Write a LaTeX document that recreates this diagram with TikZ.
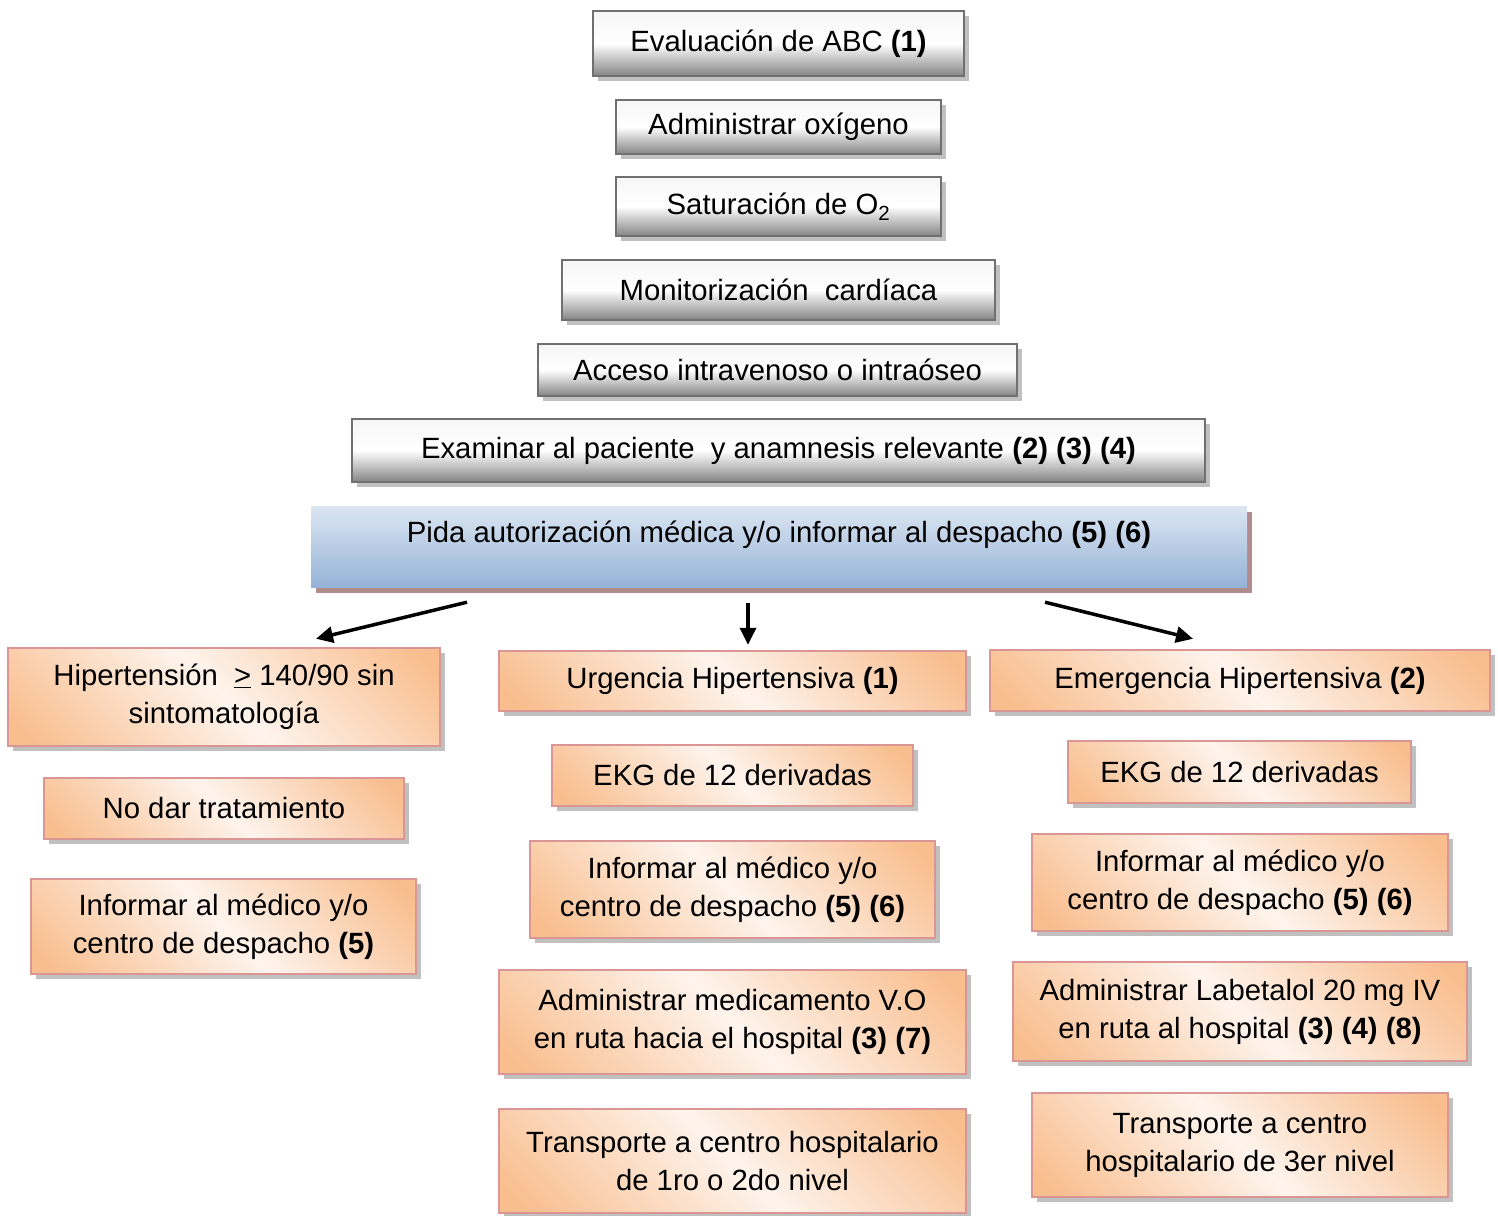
\documentclass[tikz,border=0pt]{standalone}
\usepackage{fontspec}
\setmainfont{Liberation Sans}
\usetikzlibrary{shadows,arrows.meta}

\definecolor{peach}{RGB}{249,190,142}
\definecolor{peachlt}{RGB}{254,244,237}
\definecolor{peachline}{RGB}{217,150,148}
\definecolor{grayline}{RGB}{112,112,112}
\definecolor{graydark}{RGB}{132,132,132}
\definecolor{graytop}{RGB}{246,246,246}
\definecolor{shadowgray}{RGB}{192,192,192}
\definecolor{bluetop}{RGB}{220,230,242}
\definecolor{bluebot}{RGB}{149,179,215}
\definecolor{blueshadow}{RGB}{176,140,140}

\pgfdeclarehorizontalshading{peachshade}{100bp}{color(0bp)=(peach); color(18bp)=(peach); color(50bp)=(peachlt); color(82bp)=(peach); color(100bp)=(peach)}

\tikzset{
  box/.style={rectangle, inner sep=0pt, align=center, text=black,
    font=\fontsize{29.3}{38}\selectfont},
  graybox/.style={box, top color=graytop, bottom color=graydark, middle color=white,
    draw=grayline, line width=2.5pt,
    drop shadow={shadow xshift=5pt, shadow yshift=-5pt, fill=shadowgray, opacity=1}},
  peachbox/.style={box, shade, shading=peachshade, shading angle=45,
    draw=peachline, line width=2.5pt,
    drop shadow={shadow xshift=5pt, shadow yshift=-5pt, fill=shadowgray, opacity=1}},
  bluebox/.style={box, top color=bluetop, bottom color=bluebot,
    drop shadow={shadow xshift=5pt, shadow yshift=-6pt, fill=blueshadow, opacity=1}},
  arr/.style={-{Triangle[length=17pt,width=16pt]}, line width=3.5pt, black},
}

\begin{document}
\begin{tikzpicture}[x=1pt,y=-1pt]
\useasboundingbox (0,0) rectangle (1498,1215);

% initial sequence of steps
\node[graybox, minimum width=371pt, minimum height=65pt] (abc) at (778.5,43.5)
  {Evaluación de ABC \textbf{(1)}};
\node[graybox, minimum width=325pt, minimum height=54pt] (oxi) at (778.5,127)
  {Administrar oxígeno};
\node[graybox, minimum width=325pt, minimum height=59pt] (sat) at (778.5,206.5)
  {Saturación de O\textsubscript{2}};
\node[graybox, minimum width=433pt, minimum height=60pt] (mon) at (778.5,290)
  {Monitorización\ \ cardíaca};
\node[graybox, minimum width=479pt, minimum height=52pt] (acc) at (777.5,370)
  {Acceso intravenoso o intraóseo};
\node[graybox, minimum width=853pt, minimum height=63pt] (exa) at (778.5,450.5)
  {Examinar al paciente\ \ y anamnesis relevante \textbf{(2) (3) (4)}};
\node[bluebox, minimum width=936pt, minimum height=81pt] (pida) at (779,546.5)
  {\raisebox{12pt}[\height][\depth]{Pida autorización médica y/o informar al despacho \textbf{(5) (6)}}};

% left branch
\node[peachbox, minimum width=432pt, minimum height=98pt] (hip) at (224,697)
  {Hipertensión\ \ \underline{>} 140/90 sin\\sintomatología};
\node[peachbox, minimum width=360pt, minimum height=61pt] (nodar) at (224,808.5)
  {No dar tratamiento};
\node[peachbox, minimum width=385pt, minimum height=95pt] (infL) at (223.5,926.5)
  {Informar al médico y/o\\centro de despacho \textbf{(5)}};

% middle branch
\node[peachbox, minimum width=467pt, minimum height=60pt] (urg) at (732.5,681)
  {Urgencia Hipertensiva \textbf{(1)}};
\node[peachbox, minimum width=361pt, minimum height=61pt] (ekgM) at (732.5,775.5)
  {EKG de 12 derivadas};
\node[peachbox, minimum width=405pt, minimum height=97pt] (infM) at (732.5,889.5)
  {Informar al médico y/o\\centro de despacho \textbf{(5) (6)}};
\node[peachbox, minimum width=467pt, minimum height=104pt] (admM) at (732.5,1022)
  {Administrar medicamento V.O\\en ruta hacia el hospital \textbf{(3) (7)}};
\node[peachbox, minimum width=467pt, minimum height=104pt] (traM) at (732.5,1161)
  {Transporte a centro hospitalario\\de 1ro o 2do nivel};

% right branch
\node[peachbox, minimum width=500pt, minimum height=61pt] (emer) at (1240,680.5)
  {Emergencia Hipertensiva \textbf{(2)}};
\node[peachbox, minimum width=343pt, minimum height=62pt] (ekgR) at (1239.5,772)
  {EKG de 12 derivadas};
\node[peachbox, minimum width=416pt, minimum height=97pt] (infR) at (1240,882.5)
  {Informar al médico y/o\\centro de despacho \textbf{(5) (6)}};
\node[peachbox, minimum width=454pt, minimum height=99pt] (lab) at (1240,1011.5)
  {Administrar Labetalol 20 mg IV\\en ruta al hospital \textbf{(3) (4) (8)}};
\node[peachbox, minimum width=416pt, minimum height=104pt] (traR) at (1240,1145)
  {Transporte a centro\\hospitalario de 3er nivel};

% branching arrows
\coordinate (sL) at ([shift={(-312pt,-15pt)}]pida.south);
\coordinate (sM) at ([shift={(-31pt,-16pt)}]pida.south);
\coordinate (sR) at ([shift={(266pt,-15pt)}]pida.south);
\coordinate (eL) at ([shift={(92pt,8pt)}]hip.north);
\coordinate (eM) at ([shift={(15.5pt,5pt)}]urg.north);
\coordinate (eR) at ([shift={(-47pt,10pt)}]emer.north);
\draw[arr] (sL) -- (eL);
\draw[arr] (sM) -- (eM);
\draw[arr] (sR) -- (eR);
\end{tikzpicture}
\end{document}
